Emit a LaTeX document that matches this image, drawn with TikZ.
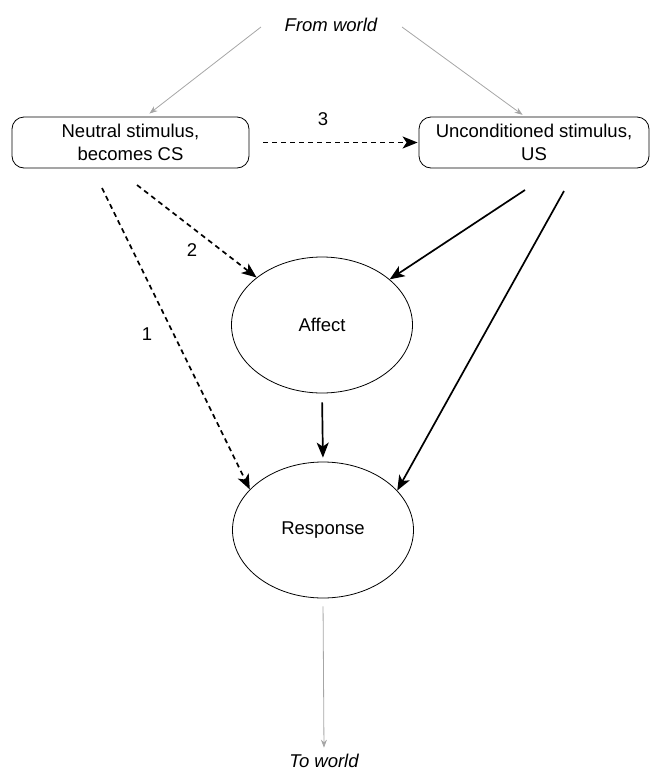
\documentclass[tikz,border=0pt]{standalone}
\usepackage{fontspec}
\setmainfont{Liberation Sans}
\usetikzlibrary{shapes.geometric,arrows.meta}

\begin{document}
\begin{tikzpicture}[x=1pt,y=-1pt]
        \tikzset{every node/.style={font=\fontsize{18.5}{23}\selectfont},
            stimbox/.style={draw,rounded corners=12pt,line width=0.8pt,align=center,
                minimum height=51pt,inner sep=0pt},
            feel/.style={draw,ellipse,line width=0.8pt,minimum width=181pt,minimum height=136pt},
            worldlink/.style={draw=black!35,line width=0.8pt,-{Stealth[length=8pt,width=6pt]}},
            boldlink/.style={line width=1.7pt,-{Stealth[length=15pt,width=12pt,inset=4pt]}},
            learnlink/.style={boldlink,dash pattern=on 5pt off 4pt}}
        \useasboundingbox (0,0) rectangle (651,772);
        \node (fromworld) at (331,25) {\itshape From world};
        \node[stimbox,minimum width=237pt] (neutral) at (130.5,142.5) {Neutral stimulus,\\becomes CS};
        \node[stimbox,minimum width=230pt] (uncond) at (534,142.5) {Unconditioned stimulus,\\US};
        \node[feel] (affect) at (322,325) {Affect};
        \node[feel] (response) at (323,530) {Response};
        \node (toworld) at (324,761) {\itshape To world};
        % free ends of the links
        \coordinate (fwl) at (261,27);
        \coordinate (fwr) at (402,27);
        \coordinate (cs1) at (102,188);
        \coordinate (cs2) at (137,185);
        \coordinate (us1) at (525,190);
        \coordinate (us2) at (564,191);
        % from and to the world
        \draw[worldlink,shorten >=5pt] (fwl) -- ([xshift=15pt]neutral.north);
        \draw[worldlink,shorten >=3pt] (fwr) -- ([xshift=-9pt]uncond.north);
        \draw[worldlink,shorten <=8pt,shorten >=3pt] (response.south) -- (toworld.north);
        % conditioning
        \draw[learnlink,shorten <=14pt,shorten >=1pt] (neutral.east) -- (uncond.west);
        \node at (323,119) {3};
        \draw[learnlink] (cs2) -- (affect.144);
        \node at (192,250) {2};
        \draw[learnlink] (cs1) -- (response.151);
        \node at (147,334) {1};
        \draw[boldlink] (us1) -- (affect.34);
        \draw[boldlink] (us2) -- (response.28);
        \draw[boldlink,shorten <=9pt,shorten >=4pt] (affect.south) -- (response.north);
\end{tikzpicture}
\end{document}
